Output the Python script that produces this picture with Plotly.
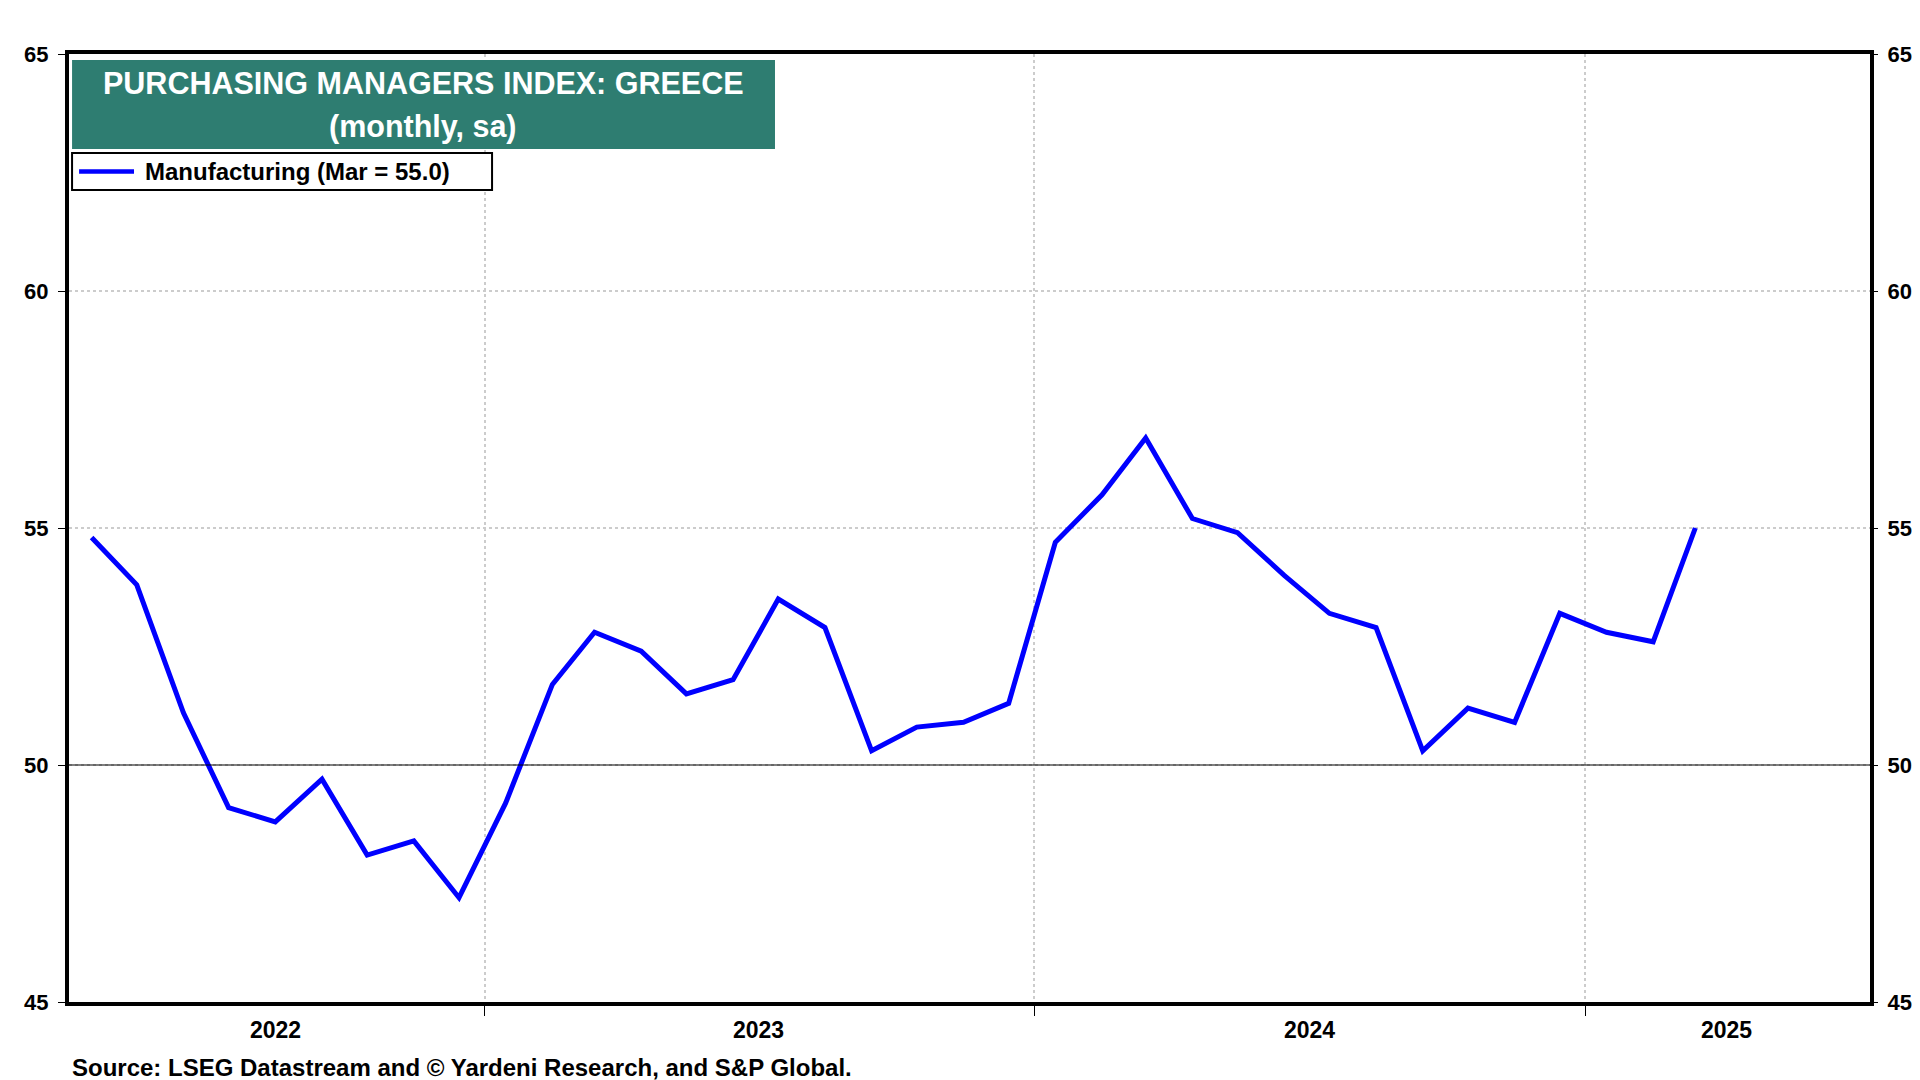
import plotly.graph_objects as go

# Greece manufacturing PMI, monthly (sa), Apr 2022 - Mar 2025
months = [
    "2022-04-15", "2022-05-15", "2022-06-15", "2022-07-15", "2022-08-15", "2022-09-15",
    "2022-10-15", "2022-11-15", "2022-12-15", "2023-01-15", "2023-02-15", "2023-03-15",
    "2023-04-15", "2023-05-15", "2023-06-15", "2023-07-15", "2023-08-15", "2023-09-15",
    "2023-10-15", "2023-11-15", "2023-12-15", "2024-01-15", "2024-02-15", "2024-03-15",
    "2024-04-15", "2024-05-15", "2024-06-15", "2024-07-15", "2024-08-15", "2024-09-15",
    "2024-10-15", "2024-11-15", "2024-12-15", "2025-01-15", "2025-02-15", "2025-03-15",
]
manufacturing = [
    54.8, 53.8, 51.1, 49.1, 48.8, 49.7, 48.1, 48.4, 47.2, 49.2, 51.7, 52.8,
    52.4, 51.5, 51.8, 53.5, 52.9, 50.3, 50.8, 50.9, 51.3, 54.7, 55.7, 56.9,
    55.2, 54.9, 54.0, 53.2, 52.9, 50.3, 51.2, 50.9, 53.2, 52.8, 52.6, 55.0,
]
year_starts = ["2023-01-01", "2024-01-01", "2025-01-01"]
year_labels = ["2022", "2023", "2024", "2025"]
# label sits in the middle of the visible part of each year
year_label_pos = ["2022-08-15", "2023-07-02", "2024-07-02", "2025-04-05"]
x_range = ["2022-03-31", "2025-07-09"]
y_ticks = [45, 50, 55, 60, 65]
legend_label = "Manufacturing (Mar = 55.0)"

FONT = "Liberation Sans, Arial, sans-serif"
TEAL = "#2e7d71"
GRID = "#cccccc"
BLUE = "#0000ff"

fig = go.Figure()
fig.add_trace(go.Scatter(
    x=months, y=manufacturing, mode="lines",
    line=dict(color=BLUE, width=5),
    name=legend_label, showlegend=False,
))
# invisible copy so the right-hand axis gets drawn
fig.add_trace(go.Scatter(
    x=months, y=manufacturing, yaxis="y2", mode="lines",
    line=dict(width=0), hoverinfo="skip", showlegend=False,
))

tick_font = dict(family=FONT, size=22, color="black", weight="bold")

fig.update_layout(
    width=1920, height=1080,
    margin=dict(l=61, r=58, t=46, b=86),
    paper_bgcolor="white", plot_bgcolor="white",
    font=dict(family=FONT, color="black"),
    xaxis=dict(
        type="date", range=x_range,
        tickvals=year_starts, ticktext=["", "", ""],
        ticks="outside", ticklen=10, tickwidth=1, tickcolor="black",
        showgrid=True, gridcolor=GRID, gridwidth=2, griddash="dot",
        showline=True, linecolor="black", linewidth=4, mirror=True,
        zeroline=False,
    ),
    yaxis=dict(
        range=[45, 65], tickvals=y_ticks,
        ticks="outside", ticklen=7, tickwidth=1, tickcolor="black",
        tickfont=tick_font, ticklabelstandoff=5,
        showgrid=True, gridcolor=GRID, gridwidth=2, griddash="dot",
        showline=True, linecolor="black", linewidth=4, mirror=True,
        zeroline=False,
    ),
    yaxis2=dict(
        range=[45, 65], tickvals=y_ticks, overlaying="y", side="right",
        ticks="outside", ticklen=7, tickwidth=1, tickcolor="black",
        tickfont=tick_font, ticklabelstandoff=5, showgrid=False, zeroline=False,
    ),
    showlegend=False,
)

# solid reference line at 50
fig.add_shape(type="line", xref="paper", yref="y", x0=0, x1=1, y0=50, y1=50,
              line=dict(color="black", width=1.2))

# title box
fig.add_shape(type="rect", xref="paper", yref="paper",
              x0=0.0017, x1=0.392, y0=0.8998, y1=0.9937,
              fillcolor=TEAL, line=dict(width=0), layer="above")
fig.add_annotation(text="PURCHASING MANAGERS INDEX: GREECE", xref="paper", yref="paper",
                   x=0.1966, y=0.9694, xanchor="center", yanchor="middle", showarrow=False,
                   font=dict(family=FONT, size=30.5, color="white", weight="bold"))
fig.add_annotation(text="(monthly, sa)", xref="paper", yref="paper",
                   x=0.1966, y=0.9230, xanchor="center", yanchor="middle", showarrow=False,
                   font=dict(family=FONT, size=30.5, color="white", weight="bold"))

# legend box
fig.add_shape(type="rect", xref="paper", yref="paper",
              x0=0.0017, x1=0.2349, y0=0.8565, y1=0.8956,
              fillcolor="white", line=dict(color="black", width=2), layer="above")
fig.add_shape(type="line", xref="paper", yref="paper",
              x0=0.0056, x1=0.0361, y0=0.8761, y1=0.8761,
              line=dict(color=BLUE, width=4.5), layer="above")
fig.add_annotation(text=legend_label, xref="paper", yref="paper",
                   x=0.0412, y=0.8761, xanchor="left", yanchor="middle", showarrow=False,
                   font=dict(family=FONT, size=24, color="black", weight="bold"))

# year labels
for pos, label in zip(year_label_pos, year_labels):
    fig.add_annotation(text=label, xref="x", yref="paper", x=pos, y=-0.0295,
                       xanchor="center", yanchor="middle", showarrow=False,
                       font=dict(family=FONT, size=23, color="black", weight="bold"))

fig.add_annotation(text="Source: LSEG Datastream and © Yardeni Research, and S&P Global.",
                   xref="paper", yref="paper", x=0.0005, y=-0.0686,
                   xanchor="left", yanchor="middle", showarrow=False,
                   font=dict(family=FONT, size=24, color="black", weight="bold"))

fig.write_html("out.html")
